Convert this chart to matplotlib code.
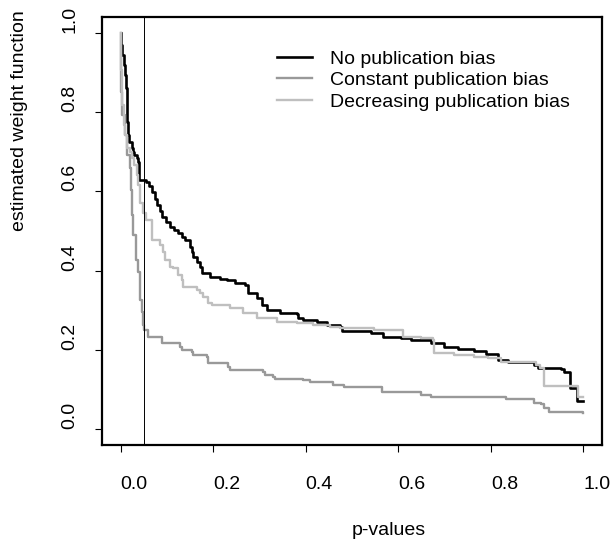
"""Estimated weight functions under three publication-bias scenarios."""

import matplotlib
matplotlib.use("Agg")
import matplotlib.pyplot as plt

plt.rcParams["font.family"] = ["Liberation Sans", "DejaVu Sans"]

# step functions (p-value where the step starts, weight after it)
nobias_p = [0, 0.002, 0.004, 0.0065, 0.009, 0.011, 0.013, 0.014, 0.015, 0.017,
            0.018, 0.024, 0.026, 0.030, 0.035, 0.037, 0.039, 0.040, 0.056, 0.061,
            0.067, 0.074, 0.078, 0.085, 0.089, 0.098, 0.106, 0.115, 0.124, 0.132,
            0.139, 0.150, 0.154, 0.156, 0.165, 0.171, 0.176, 0.193, 0.215, 0.230,
            0.247, 0.269, 0.275, 0.295, 0.306, 0.317, 0.345, 0.382, 0.384, 0.395,
            0.425, 0.447, 0.475, 0.479, 0.540, 0.568, 0.605, 0.627, 0.670, 0.698,
            0.729, 0.764, 0.790, 0.816, 0.837, 0.894, 0.902, 0.952, 0.957, 0.970,
            0.985, 1.0]
nobias_w = [1.0, 0.970, 0.944, 0.919, 0.894, 0.861, 0.836, 0.806, 0.775, 0.742,
            0.725, 0.710, 0.699, 0.692, 0.684, 0.674, 0.654, 0.629, 0.624, 0.614,
            0.598, 0.581, 0.566, 0.551, 0.535, 0.523, 0.510, 0.503, 0.495, 0.485,
            0.477, 0.460, 0.447, 0.434, 0.422, 0.409, 0.394, 0.384, 0.379, 0.376,
            0.369, 0.364, 0.343, 0.331, 0.313, 0.301, 0.293, 0.290, 0.280, 0.275,
            0.270, 0.263, 0.258, 0.247, 0.242, 0.232, 0.230, 0.225, 0.217, 0.207,
            0.202, 0.197, 0.189, 0.174, 0.169, 0.162, 0.154, 0.152, 0.144, 0.104,
            0.071, 0.071]

const_p = [0, 0.001, 0.002, 0.004, 0.009, 0.013, 0.015, 0.020, 0.022, 0.024,
           0.026, 0.033, 0.037, 0.041, 0.043, 0.046, 0.048, 0.050, 0.059, 0.089,
           0.128, 0.132, 0.154, 0.156, 0.187, 0.189, 0.232, 0.236, 0.308, 0.312,
           0.330, 0.334, 0.395, 0.410, 0.460, 0.482, 0.564, 0.649, 0.670, 0.833,
           0.894, 0.909, 0.915, 0.926, 1.0]
const_w = [1.0, 0.932, 0.851, 0.793, 0.742, 0.705, 0.692, 0.659, 0.604, 0.540,
           0.490, 0.427, 0.396, 0.369, 0.326, 0.295, 0.263, 0.250, 0.232, 0.217,
           0.207, 0.199, 0.194, 0.187, 0.182, 0.167, 0.157, 0.149, 0.144, 0.136,
           0.131, 0.126, 0.124, 0.119, 0.111, 0.106, 0.093, 0.086, 0.081, 0.076,
           0.066, 0.063, 0.053, 0.043, 0.040]

decr_p = [0, 0.002, 0.004, 0.0065, 0.009, 0.013, 0.020, 0.024, 0.030, 0.035,
          0.037, 0.041, 0.043, 0.048, 0.056, 0.067, 0.069, 0.085, 0.091, 0.095,
          0.106, 0.113, 0.124, 0.132, 0.134, 0.165, 0.171, 0.178, 0.189, 0.197,
          0.236, 0.265, 0.295, 0.338, 0.382, 0.416, 0.453, 0.475, 0.547, 0.610,
          0.649, 0.675, 0.677, 0.720, 0.764, 0.794, 0.822, 0.898, 0.905, 0.915,
          0.989, 1.0]
decr_w = [1.0, 0.907, 0.818, 0.768, 0.742, 0.710, 0.699, 0.684, 0.667, 0.641,
          0.616, 0.591, 0.571, 0.545, 0.528, 0.510, 0.477, 0.465, 0.447, 0.427,
          0.409, 0.407, 0.389, 0.376, 0.359, 0.351, 0.343, 0.333, 0.318, 0.313,
          0.306, 0.293, 0.280, 0.270, 0.268, 0.263, 0.258, 0.255, 0.250, 0.232,
          0.230, 0.225, 0.192, 0.187, 0.182, 0.179, 0.169, 0.162, 0.154, 0.109,
          0.081, 0.081]

labels = ["No publication bias", "Constant publication bias",
          "Decreasing publication bias"]
threshold = 0.05
ticks = [0.0, 0.2, 0.4, 0.6, 0.8, 1.0]
FS = 14

fig = plt.figure(figsize=(6.12, 5.4), dpi=100)
ax = fig.add_axes([102 / 612, 1 - 445 / 540, 500 / 612, 428 / 540])

ax.step(nobias_p, nobias_w, where="post", color="black", lw=1.9, label=labels[0])
ax.step(const_p, const_w, where="post", color="#999999", lw=1.7, label=labels[1])
ax.step(decr_p, decr_w, where="post", color="#bfbfbf", lw=1.7, label=labels[2])
ax.axvline(threshold, color="black", lw=0.7)

ax.set_xlim(-0.04, 1.04)
ax.set_ylim(-0.04, 1.04)
ax.set_xticks(ticks)
ax.set_yticks(ticks)
# text in the original is anchored at its start, not centred
ax.set_xticklabels([f"{t:.1f}" for t in ticks], ha="left")
ax.set_yticklabels([f"{t:.1f}" for t in ticks], rotation=90, va="bottom")
ax.tick_params(length=5, width=0.8, labelsize=FS)
ax.tick_params(axis="x", pad=17)
ax.tick_params(axis="y", pad=12)
for s in ax.spines.values():
    s.set_linewidth(1.6)

ax.set_xlabel("p-values", fontsize=FS, x=0.5, ha="left", va="baseline")
ax.xaxis.set_label_coords(0.5, (445 - 535) / 428)
ax.set_ylabel("estimated weight function", fontsize=FS, y=0.5, ha="left",
              va="baseline")
ax.yaxis.set_label_coords((24 - 102) / 500, 0.5)

ax.legend(loc="upper left", bbox_to_anchor=(277 / 612, 1 - 50 / 540),
          bbox_transform=fig.transFigure, frameon=False, fontsize=FS,
          handlelength=1.8, handletextpad=0.9, labelspacing=0.2,
          borderpad=0, borderaxespad=0)

fig.savefig("out.png", dpi=100)
